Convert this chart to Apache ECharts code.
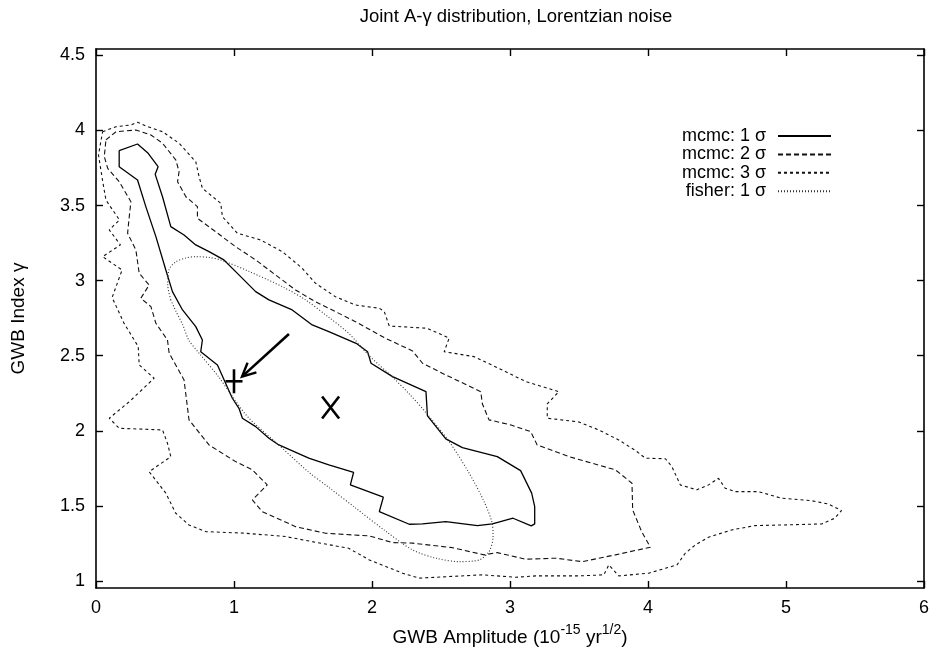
<!DOCTYPE html>
<html><head><meta charset="utf-8">
<script src="https://cdn.jsdelivr.net/npm/echarts@6/dist/echarts.min.js"></script>
<style>html,body{margin:0;padding:0;background:#fff}#c{width:932px;height:653px}</style>
</head><body><div id="c"></div>
<script>
// ---- data ----
const xTicks = [0, 1, 2, 3, 4, 5, 6];
const yTicks = [1, 1.5, 2, 2.5, 3, 3.5, 4, 4.5];
const seriesNames = ['mcmc: 1 σ', 'mcmc: 2 σ', 'mcmc: 3 σ', 'fisher: 1 σ'];

const mcmc1 = [[0.168,3.866],[0.301,3.910],[0.374,3.852],[0.450,3.759],[0.429,3.708],[0.482,3.559],[0.542,3.360],[0.638,3.304],[0.723,3.238],[0.819,3.193],[0.927,3.138],[1.012,3.060],[1.157,2.927],[1.253,2.872],[1.422,2.805],[1.567,2.705],[1.687,2.660],[1.885,2.583],[1.968,2.527],[1.993,2.450],[2.149,2.361],[2.391,2.261],[2.402,2.099],[2.535,1.946],[2.655,1.888],[2.908,1.828],[3.077,1.735],[3.157,1.585],[3.179,1.495],[3.179,1.380],[3.154,1.367],[3.022,1.418],[2.872,1.380],[2.764,1.369],[2.535,1.395],[2.366,1.380],[2.270,1.378],[2.053,1.462],[2.082,1.558],[1.843,1.640],[1.867,1.724],[1.687,1.773],[1.542,1.818],[1.325,1.906],[1.253,1.951],[1.157,2.028],[1.061,2.084],[1.036,2.150],[0.988,2.217],[0.880,2.439],[0.759,2.527],[0.771,2.605],[0.723,2.694],[0.627,2.805],[0.554,2.927],[0.506,3.071],[0.434,3.293],[0.361,3.493],[0.301,3.670],[0.168,3.759],[0.168,3.866]];

const mcmc2 = [[0.072,3.937],[0.145,3.992],[0.289,4.003],[0.398,3.970],[0.482,3.915],[0.578,3.804],[0.602,3.726],[0.591,3.659],[0.651,3.559],[0.735,3.493],[0.735,3.415],[0.867,3.326],[1.012,3.226],[1.157,3.138],[1.301,3.038],[1.446,2.938],[1.590,2.860],[1.735,2.794],[1.880,2.727],[2.096,2.617],[2.294,2.532],[2.366,2.450],[2.535,2.372],[2.788,2.261],[2.800,2.179],[2.848,2.073],[3.007,2.039],[3.150,1.995],[3.197,1.906],[3.427,1.828],[3.764,1.740],[3.884,1.651],[3.889,1.473],[3.954,1.329],[4.017,1.225],[3.764,1.174],[3.523,1.129],[3.330,1.152],[3.114,1.145],[2.908,1.189],[2.812,1.174],[2.583,1.222],[2.294,1.252],[2.149,1.256],[1.981,1.300],[1.663,1.318],[1.446,1.362],[1.205,1.462],[1.133,1.540],[1.241,1.640],[1.133,1.740],[1.012,1.795],[0.819,1.906],[0.674,2.073],[0.638,2.339],[0.530,2.517],[0.518,2.605],[0.434,2.716],[0.398,2.827],[0.325,2.883],[0.385,2.971],[0.313,3.049],[0.289,3.204],[0.229,3.316],[0.241,3.426],[0.253,3.526],[0.168,3.659],[0.085,3.748],[0.060,3.826],[0.072,3.937]];

const mcmc3 = [[0.048,3.992],[0.145,4.025],[0.253,4.037],[0.301,4.055],[0.361,4.030],[0.482,3.992],[0.602,3.915],[0.723,3.792],[0.747,3.692],[0.771,3.615],[0.904,3.515],[0.916,3.426],[1.024,3.316],[1.193,3.271],[1.350,3.193],[1.494,3.083],[1.590,2.983],[1.735,2.893],[1.880,2.838],[2.053,2.816],[2.089,2.794],[2.125,2.698],[2.400,2.683],[2.559,2.617],[2.523,2.527],[2.740,2.494],[2.944,2.405],[3.114,2.328],[3.354,2.261],[3.270,2.179],[3.270,2.084],[3.499,2.059],[3.643,2.006],[3.788,1.939],[3.909,1.869],[3.981,1.818],[4.126,1.814],[4.173,1.762],[4.234,1.640],[4.354,1.607],[4.439,1.640],[4.511,1.684],[4.559,1.618],[4.632,1.595],[4.800,1.595],[4.969,1.551],[5.185,1.535],[5.306,1.513],[5.402,1.469],[5.354,1.418],[5.258,1.380],[5.017,1.374],[4.776,1.369],[4.607,1.340],[4.439,1.292],[4.343,1.240],[4.270,1.185],[4.210,1.107],[4.126,1.085],[4.005,1.052],[3.788,1.034],[3.716,1.107],[3.680,1.041],[3.499,1.034],[3.186,1.034],[3.041,1.025],[2.800,1.041],[2.463,1.025],[2.342,1.019],[2.222,1.052],[1.981,1.140],[1.831,1.218],[1.567,1.262],[1.374,1.296],[1.084,1.318],[0.795,1.329],[0.674,1.373],[0.578,1.451],[0.506,1.585],[0.385,1.728],[0.542,1.828],[0.518,1.917],[0.482,2.006],[0.338,2.011],[0.168,2.017],[0.096,2.084],[0.241,2.194],[0.421,2.350],[0.313,2.439],[0.306,2.561],[0.202,2.718],[0.117,2.888],[0.189,3.071],[0.048,3.160],[0.177,3.238],[0.096,3.338],[0.170,3.404],[0.072,3.537],[0.047,3.670],[0.018,3.837],[0.048,3.992]];

const fisher1 = [[0.542,2.872],[0.520,2.971],[0.528,3.071],[0.578,3.125],[0.651,3.151],[0.723,3.160],[0.824,3.154],[0.916,3.134],[1.113,3.060],[1.354,2.958],[1.518,2.872],[1.684,2.758],[1.836,2.645],[1.981,2.499],[2.147,2.359],[2.270,2.246],[2.393,2.119],[2.559,1.928],[2.704,1.718],[2.812,1.529],[2.870,1.387],[2.877,1.294],[2.848,1.196],[2.776,1.140],[2.631,1.129],[2.463,1.152],[2.294,1.207],[2.096,1.334],[1.880,1.487],[1.692,1.620],[1.540,1.726],[1.301,1.926],[1.106,2.086],[0.990,2.226],[0.889,2.359],[0.745,2.519],[0.672,2.605],[0.629,2.705],[0.578,2.798],[0.542,2.872]];

const plusPoint = [1.00, 2.33];
const crossPoint = [1.70, 2.155];
const arrowFrom = [1.398, 2.645];
const arrowTo = [1.058, 2.361];

const xRange = [0, 6];
const yRange = [0.9534, 4.5426];

// ---- chart ----
const FONT = '"Liberation Sans", Arial, Helvetica, sans-serif';
const chart = echarts.init(document.getElementById('c'), null, {renderer: 'canvas'});

function mkAxisX(pos, labels) {
  return {
    type: 'value', position: pos, min: xRange[0], max: xRange[1],
    axisLine: {show: true, onZero: false, lineStyle: {color: '#000', width: 1.6}},
    axisTick: {show: true, inside: true, length: 7, customValues: xTicks, lineStyle: {color: '#000', width: 1.4}},
    axisLabel: {show: labels, customValues: xTicks, color: '#000', fontSize: 18, fontFamily: FONT, margin: 11},
    splitLine: {show: false}
  };
}
function mkAxisY(pos, labels) {
  return {
    type: 'value', position: pos, min: yRange[0], max: yRange[1],
    axisLine: {show: true, onZero: false, lineStyle: {color: '#000', width: 1.6}},
    axisTick: {show: true, inside: true, length: 7, customValues: yTicks, lineStyle: {color: '#000', width: 1.4}},
    axisLabel: {show: labels, customValues: yTicks, color: '#000', fontSize: 18, fontFamily: FONT, margin: 11,
      formatter: v => String(v)},
    splitLine: {show: false}
  };
}

const xMain = mkAxisX('bottom', true);
xMain.name = '{a|GWB Amplitude (10}{s|-15}{a| yr}{s|1/2}{a|)}';
xMain.nameLocation = 'middle';
xMain.nameGap = 35;
xMain.nameTextStyle = {
  color: '#000', fontFamily: FONT, fontSize: 19,
  rich: {
    a: {fontSize: 19, fontFamily: FONT, color: '#000', lineHeight: 24, verticalAlign: 'bottom'},
    s: {fontSize: 14, fontFamily: FONT, color: '#000', lineHeight: 24, verticalAlign: 'top', padding: [0, 0, 9, 0]}
  }
};
const yMain = mkAxisY('left', true);
yMain.name = 'GWB Index γ';
yMain.nameLocation = 'middle';
yMain.nameGap = 68;
yMain.nameRotate = 90;
yMain.nameTextStyle = {color: '#000', fontFamily: FONT, fontSize: 19};

function lineSeries(name, data, type, width, color, smooth) {
  return {
    name: name, type: 'line', data: data, xAxisIndex: 0, yAxisIndex: 0,
    showSymbol: false, symbol: 'none', smooth: smooth || false, silent: true,
    lineStyle: {color: color, width: width, type: type},
    itemStyle: {color: color},
    animation: false
  };
}

const option = {
  animation: false,
  backgroundColor: '#fff',
  title: {
    text: 'Joint A-γ distribution, Lorentzian noise',
    left: 511, top: 2, textAlign: 'center',
    textStyle: {fontSize: 18.5, fontWeight: 'normal', color: '#000', fontFamily: FONT}
  },
  grid: {left: 96, right: 6, top: 49, bottom: 65, containLabel: false},
  legend: {
    data: seriesNames,
    orient: 'vertical', align: 'right',
    right: 95, top: 122,
    itemWidth: 53, itemHeight: 12, itemGap: 0.4,
    itemStyle: {opacity: 0},
    textStyle: {fontSize: 18, fontFamily: FONT, color: '#000', lineHeight: 16, padding: [0, 7, 0, 0]},
    selectedMode: false
  },
  xAxis: [xMain, mkAxisX('top', false)],
  yAxis: [yMain, mkAxisY('right', false)],
  series: [
    lineSeries(seriesNames[0], mcmc1, 'solid', 1.3, '#000'),
    lineSeries(seriesNames[1], mcmc2, [5, 3], 1.1, '#111'),
    lineSeries(seriesNames[2], mcmc3, [3, 3], 1.1, '#111'),
    lineSeries(seriesNames[3], fisher1, [1, 2], 1.1, '#333', 0.3),
    {
      type: 'custom', xAxisIndex: 0, yAxisIndex: 0, silent: true,
      data: [[plusPoint[0], plusPoint[1], 0], [crossPoint[0], crossPoint[1], 1]],
      renderItem: function (params, api) {
        const p = api.coord([api.value(0), api.value(1)]);
        const kind = api.value(2);
        const hw = 8.5, hh = kind === 0 ? 12 : 11;
        const segs = kind === 0
          ? [[p[0] - hw, p[1], p[0] + hw, p[1]], [p[0], p[1] - hh, p[0], p[1] + hh]]
          : [[p[0] - hw, p[1] - hh, p[0] + hw, p[1] + hh], [p[0] - hw, p[1] + hh, p[0] + hw, p[1] - hh]];
        return {
          type: 'group',
          children: segs.map(s => ({type: 'line', shape: {x1: s[0], y1: s[1], x2: s[2], y2: s[3]},
            style: {stroke: '#000', lineWidth: 2.6}}))
        };
      }
    },
    {
      type: 'custom', xAxisIndex: 0, yAxisIndex: 0, silent: true,
      data: [[arrowFrom[0], arrowFrom[1], arrowTo[0], arrowTo[1]]],
      renderItem: function (params, api) {
        const a = api.coord([api.value(0), api.value(1)]);
        const b = api.coord([api.value(2), api.value(3)]);
        const dx = a[0] - b[0], dy = a[1] - b[1], L = Math.hypot(dx, dy);
        const ux = dx / L, uy = dy / L;
        const hl = 15, ang = 26 * Math.PI / 180;
        const r = t => [ux * Math.cos(t) - uy * Math.sin(t), ux * Math.sin(t) + uy * Math.cos(t)];
        const b1 = r(ang), b2 = r(-ang);
        return {
          type: 'group',
          children: [
            {type: 'line', shape: {x1: a[0], y1: a[1], x2: b[0] + ux * 3, y2: b[1] + uy * 3}, style: {stroke: '#000', lineWidth: 2.6}},
            {type: 'polyline', shape: {points: [[b[0] + b1[0] * hl, b[1] + b1[1] * hl], [b[0], b[1]], [b[0] + b2[0] * hl, b[1] + b2[1] * hl]]},
              style: {stroke: '#000', lineWidth: 2.4, fill: null}}
          ]
        };
      }
    }
  ]
};
chart.setOption(option);
</script>
</body></html>
